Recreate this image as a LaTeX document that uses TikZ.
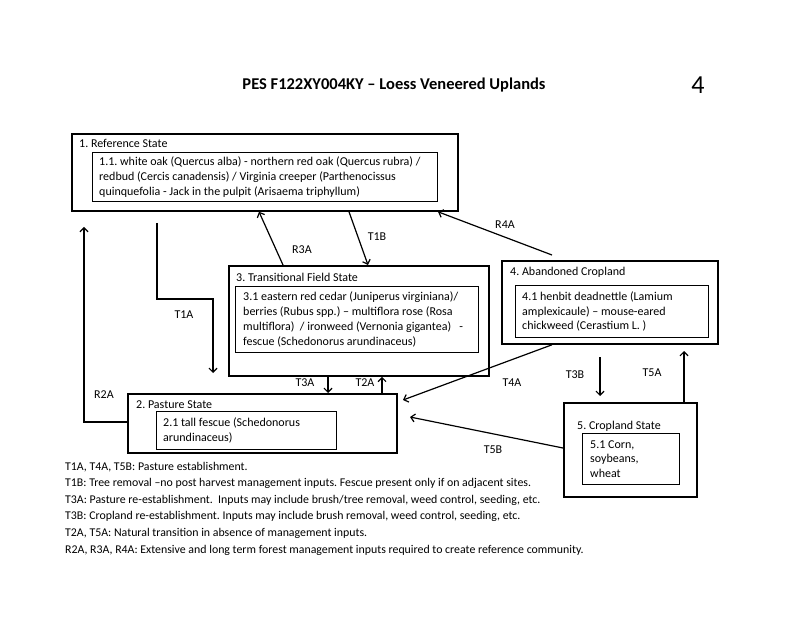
\documentclass[tikz,border=0pt]{standalone}
\usepackage{fontspec}
\setmainfont{Carlito}
\usetikzlibrary{arrows.meta}
\frenchspacing
\begin{document}
\begin{tikzpicture}[x=1pt,y=-1pt,
  obox/.style={draw, line width=1.8pt, anchor=north west, inner sep=0pt},
  ibox/.style={draw, line width=1.1pt, anchor=north west, inner sep=0pt},
  itxt/.style={anchor=west, inner sep=0pt, align=left, font=\fontsize{12}{14.8}\selectfont},
  ttl/.style={anchor=base west, inner sep=0pt, font=\fontsize{12}{14}\selectfont},
  lbl/.style={inner sep=0pt, font=\fontsize{12}{14}\selectfont},
  arr/.style={line width=1.2pt, -{Straight Barb[length=4pt,width=8pt]}},
  leg/.style={anchor=base west, inner sep=0pt, font=\fontsize{11.85}{14}\selectfont}]
\fill[white] (0,0) rectangle (800,617);
\useasboundingbox (0,0) rectangle (800,617);

% heading
\node[inner sep=0pt, font=\fontsize{16.5}{19}\selectfont\bfseries] (head) at (394,85) {PES F122XY004KY – Loess Veneered Uplands};
\node[inner sep=0pt, font=\fontsize{26}{30}\selectfont] (pnum) at (698,85) {4};

% outer boxes
\node[obox, minimum width=386pt, minimum height=77pt] (b1) at (71,133) {};
\node[obox, minimum width=260pt, minimum height=110pt] (b3) at (228,265) {};
\node[obox, minimum width=216pt, minimum height=83pt] (b4) at (501,260) {};
\node[obox, minimum width=269pt, minimum height=59pt] (b2) at (127,393) {};
\node[obox, minimum width=133pt, minimum height=94pt] (b5) at (563,402) {};

% titles
\node[ttl] (t1) at (79,148) {1. Reference State};
\node[ttl] (t3) at (236,282) {3. Transitional Field State};
\node[ttl] (t4) at (510,276) {4. Abandoned Cropland};
\node[ttl] (t2) at (136,408) {2. Pasture State};
\node[ttl] (t5) at (577,429) {5. Cropland State};

% inner boxes
\node[ibox, minimum width=345pt, minimum height=49pt] (i1) at (92,152) {};
\node[ibox, minimum width=243pt, minimum height=66pt] (i3) at (235,286) {};
\node[ibox, minimum width=193pt, minimum height=52pt] (i4) at (515,285) {};
\node[ibox, minimum width=180pt, minimum height=38pt] (i2) at (156,411) {};
\node[ibox, minimum width=97pt, minimum height=51pt] (i5) at (582,433) {};

% inner texts
\node[itxt] (x1) at ([xshift=7pt]i1.west)
 {1.1. white oak (Quercus alba) - northern red oak (Quercus rubra) /\\
  redbud (Cercis canadensis) / Virginia creeper (Parthenocissus\\
  quinquefolia - Jack in the pulpit (Arisaema triphyllum)};
\node[itxt] (x3) at ([xshift=8pt]i3.west)
 {3.1 eastern red cedar (Juniperus virginiana)/\\
  berries (Rubus spp.) – multiflora rose (Rosa\\
  multiflora)\ \ / ironweed (Vernonia gigantea)\ \ \ -\\
  fescue (Schedonorus arundinaceus)};
\node[itxt] (x4) at ([xshift=7pt]i4.west)
 {4.1 henbit deadnettle (Lamium\\
  amplexicaule) – mouse-eared\\
  chickweed (Cerastium L. )};
\node[itxt] (x2) at ([xshift=7pt]i2.west)
 {2.1 tall fescue (Schedonorus\\
  arundinaceus)};
\node[itxt] (x5) at ([xshift=8pt]i5.west)
 {5.1 Corn,\\ soybeans,\\ wheat};

% free arrow ends
\coordinate (r4aS) at (552,255);
\coordinate (t1aS) at (157,223);
\coordinate (t1aM) at (213,299);
\coordinate (t1aE) at (213,373);
\coordinate (r2aE) at (84,227);
\coordinate (t4aE) at (403,400);
\coordinate (t5bE) at (410,417);
\coordinate (t3bS) at (600,357);
\coordinate (t3bE) at (600,396);
\coordinate (t5aE) at (684,351);

% connectors
\draw[arr] (283,0 |- b3.north) -- (259,0 |- b1.south);
\draw[arr] (349,0 |- b1.south) -- (368,0 |- b3.north);
\draw[arr] (r4aS) -- (438,0 |- b1.south);
\draw[arr] (t1aS) |- (t1aM) -- (t1aE);
\draw[arr] (b2.west |- 0,422) -| (r2aE);
\draw[arr] (328,0 |- b3.south) -- (328,0 |- b2.north);
\draw[arr] (382,0 |- b2.north) -- (382,0 |- b3.south);
\draw[arr] (552,0 |- b4.south) -- (t4aE);
\draw[arr] (b5.west |- 0,448) -- (t5bE);
\draw[arr] (t3bS) -- (t3bE);
\draw[arr] (684,0 |- b5.north) -- (t5aE);

% connector labels
\node[lbl] (lR3A) at (302,250) {R3A};
\node[lbl] (lT1B) at (377,237) {T1B};
\node[lbl] (lR4A) at (505,225) {R4A};
\node[lbl] (lT1A) at (184,315) {T1A};
\node[lbl] (lR2A) at (104,395) {R2A};
\node[lbl] (lT3A) at (305,383) {T3A};
\node[lbl] (lT2A) at (365,383) {T2A};
\node[lbl] (lT4A) at (512,383) {T4A};
\node[lbl] (lT5B) at (493,450) {T5B};
\node[lbl] (lT3B) at (575,375) {T3B};
\node[lbl] (lT5A) at (652,373) {T5A};

% legend
\node[leg] (g1) at (65,470) {T1A, T4A, T5B: Pasture establishment.};
\node[leg] (g2) at (65,486.6) {T1B: Tree removal –no post harvest management inputs. Fescue present only if on adjacent sites.};
\node[leg] (g3) at (65,503.2) {T3A: Pasture re-establishment.\ \ Inputs may include brush/tree removal, weed control, seeding, etc.};
\node[leg] (g4) at (65,519.8) {T3B: Cropland re-establishment. Inputs may include brush removal, weed control, seeding, etc.};
\node[leg] (g5) at (65,536.4) {T2A, T5A: Natural transition in absence of management inputs.};
\node[leg] (g6) at (65,553) {R2A, R3A, R4A: Extensive and long term forest management inputs required to create reference community.};
\end{tikzpicture}
\end{document}
